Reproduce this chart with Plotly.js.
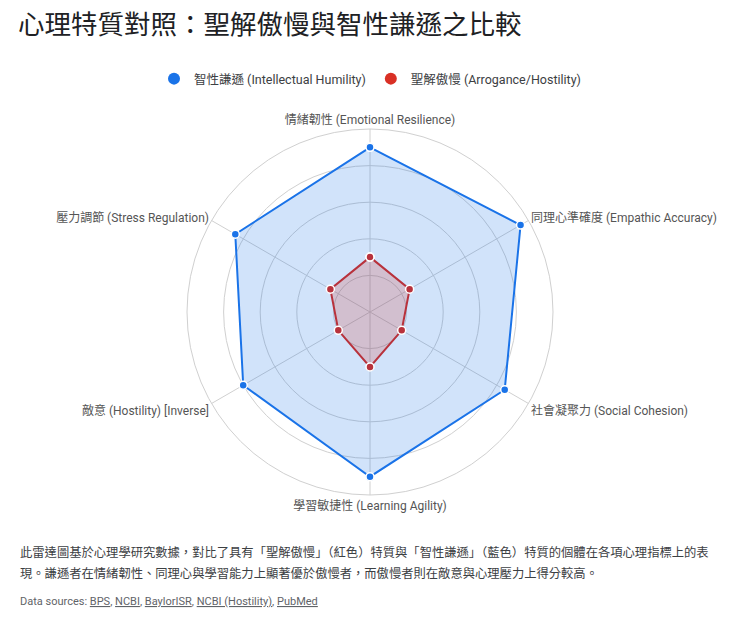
<!DOCTYPE html>
<html>
<head>
<meta charset="utf-8">
<script src="https://cdn.plot.ly/plotly-3.0.1.min.js"></script>
<style>
  html, body { margin: 0; padding: 0; background: #fff; }
  #chart { width: 740px; height: 624px; }
</style>
</head>
<body>
<div id="chart"></div>
<script>
const categories = [
  "情緒韌性 (Emotional Resilience)",
  "同理心準確度 (Empathic Accuracy)",
  "社會凝聚力 (Social Cohesion)",
  "學習敏捷性 (Learning Agility)",
  "敵意 (Hostility) [Inverse]",
  "壓力調節 (Stress Regulation)"
];
const humility = [90, 95, 85, 90, 80, 85];
const arrogance = [30, 25, 20, 30, 20, 25];
const seriesNames = ["智性謙遜 (Intellectual Humility)", "聖解傲慢 (Arrogance/Hostility)"];
const sourceNames = ["BPS", "NCBI", "BaylorISR", "NCBI (Hostility)", "PubMed"];

const FONT = "Roboto, 'Noto Sans CJK TC', sans-serif";
const W = 740, H = 624;
const py = px => 1 - px / H;

// close the polygon by repeating the first point
const loop = arr => arr.concat(arr[0]);

function radarTrace(values, line, fill) {
  return {
    type: 'scatterpolar',
    mode: 'lines+markers',
    r: loop(values),
    theta: loop(categories),
    fill: 'toself',
    fillcolor: fill,
    line: { color: line, width: 2 },
    marker: { color: line, size: 8, line: { color: '#fff', width: 1.5 } },
    showlegend: false,
    hoverinfo: 'skip'
  };
}

// legend-only dots
function legendDot(name, color) {
  return {
    type: 'scatterpolar',
    mode: 'markers',
    r: [null],
    theta: [categories[0]],
    name: name,
    marker: { color: color, size: 12 },
    showlegend: true,
    hoverinfo: 'skip'
  };
}

const traces = [
  radarTrace(humility, '#1a73e8', 'rgba(26,115,232,0.2)'),
  radarTrace(arrogance, '#b8323c', 'rgba(217,48,37,0.2)'),
  legendDot(seriesNames[0], '#1a73e8'),
  legendDot(seriesNames[1], '#d93025')
];

const cx = 370, cy = 312, R = 183;

const layout = {
  width: W,
  height: H,
  margin: { l: 0, r: 0, t: 0, b: 0 },
  paper_bgcolor: '#fff',
  font: { family: FONT, color: '#555' },
  title: {
    text: '心理特質對照：聖解傲慢與智性謙遜之比較',
    font: { family: "'Noto Sans CJK TC', Roboto, sans-serif", size: 26.5, color: '#202124' },
    x: 18 / W, xanchor: 'left', xref: 'container',
    y: py(25), yanchor: 'middle', yref: 'container'
  },
  showlegend: true,
  legend: {
    orientation: 'h',
    x: 0.5, xanchor: 'center',
    y: py(79), yanchor: 'middle',
    font: { family: FONT, size: 12.5, color: '#3c4043' },
    itemsizing: 'constant'
  },
  polar: {
    domain: { x: [(cx - R) / W, (cx + R) / W], y: [py(cy + R), py(cy - R)] },
    bgcolor: 'rgba(0,0,0,0)',
    radialaxis: {
      range: [0, 100],
      dtick: 20,
      showticklabels: false,
      ticks: '',
      showline: false,
      gridcolor: '#d0d0d0',
      gridwidth: 1
    },
    angularaxis: {
      direction: 'clockwise',
      rotation: 90,
      gridcolor: '#d0d0d0',
      linecolor: '#d0d0d0',
      showline: true,
      ticks: '',
      tickfont: { family: FONT, size: 12, color: '#555' }
    }
  },
  annotations: [
    {
      text: '此雷達圖基於心理學研究數據，對比了具有「聖解傲慢」（紅色）特質與「智性謙遜」（藍色）特質的個體在各項心理指標上的表',
      x: 18 / W, xref: 'paper', xanchor: 'left',
      y: py(552), yref: 'paper', yanchor: 'middle',
      showarrow: false,
      font: { family: "'Noto Sans CJK TC', Roboto, sans-serif", size: 12.3, color: '#3c4043' }
    },
    {
      text: '現。謙遜者在情緒韌性、同理心與學習能力上顯著優於傲慢者，而傲慢者則在敵意與心理壓力上得分較高。',
      x: 18 / W, xref: 'paper', xanchor: 'left',
      y: py(573), yref: 'paper', yanchor: 'middle',
      showarrow: false,
      font: { family: "'Noto Sans CJK TC', Roboto, sans-serif", size: 12.3, color: '#3c4043' }
    },
    {
      text: 'Data sources: ' + sourceNames.map(s => '<u>' + s + '</u>').join(', '),
      x: 18 / W, xref: 'paper', xanchor: 'left',
      y: py(601), yref: 'paper', yanchor: 'middle',
      showarrow: false,
      font: { family: FONT, size: 11, color: '#5f6368' }
    }
  ]
};

Plotly.newPlot('chart', traces, layout, { displayModeBar: false, staticPlot: true });
</script>
</body>
</html>
